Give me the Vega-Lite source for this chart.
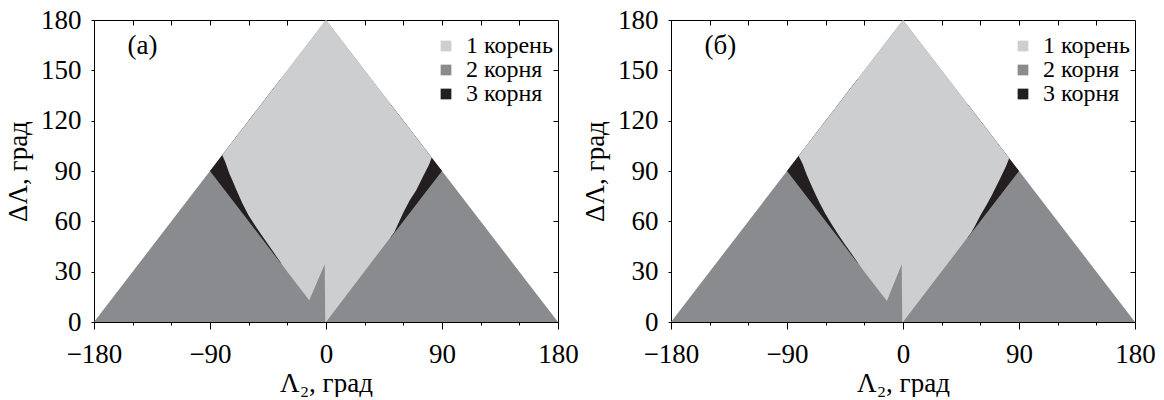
{
  "$schema": "https://vega.github.io/schema/vega-lite/v6.json",
  "background": "white",
  "padding": {"left": 4, "top": 5, "right": 5, "bottom": 0},
  "spacing": 113,
  "bounds": "flush",
  "config": {
    "font": "Liberation Serif, Times New Roman, Tinos, DejaVu Serif, serif",
    "view": {"stroke": "black", "strokeWidth": 1},
    "axis": {
      "labelFont": "Liberation Serif, Times New Roman, Tinos, DejaVu Serif, serif", "titleFont": "Liberation Serif, Times New Roman, Tinos, DejaVu Serif, serif",
      "labelFontSize": 27, "titleFontSize": 27, "titleFontWeight": "normal",
      "labelColor": "black", "titleColor": "black",
      "domainColor": "black", "tickColor": "black", "domainWidth": 1, "tickWidth": 1,
      "grid": false, "zindex": 1, "labelFlush": false, "labelOverlap": false
    },
    "legend": {
      "labelFont": "Liberation Serif, Times New Roman, Tinos, DejaVu Serif, serif", "labelFontSize": 24, "labelColor": "black"
    },
    "text": {"font": "Liberation Serif, Times New Roman, Tinos, DejaVu Serif, serif"}
  },
  "datasets": {
    "dark": [
      {"s": "2 корня", "x": -180, "y": 0, "y2": 0},
      {"s": "2 корня", "x": 0, "y": 180, "y2": 0},
      {"s": "2 корня", "x": 180, "y": 0, "y2": 0}
    ],
    "black": [
      {"s": "3 корня", "g": "L", "x": -90, "y": 90, "y2": 90},
      {"s": "3 корня", "g": "L", "x": -80, "y": 100, "y2": 80},
      {"s": "3 корня", "g": "L", "x": -70, "y": 110, "y2": 70},
      {"s": "3 корня", "g": "L", "x": -60, "y": 120, "y2": 60},
      {"s": "3 корня", "g": "L", "x": -50, "y": 130, "y2": 50},
      {"s": "3 корня", "g": "L", "x": -40, "y": 140, "y2": 40},
      {"s": "3 корня", "g": "L", "x": -35, "y": 145, "y2": 35},
      {"s": "3 корня", "g": "R", "x": 50, "y": 130, "y2": 50},
      {"s": "3 корня", "g": "R", "x": 60, "y": 120, "y2": 60},
      {"s": "3 корня", "g": "R", "x": 70, "y": 110, "y2": 70},
      {"s": "3 корня", "g": "R", "x": 80, "y": 100, "y2": 80},
      {"s": "3 корня", "g": "R", "x": 90, "y": 90, "y2": 90}
    ],
    "a_light": [
      {"s": "1 корень", "x": -80.5, "y": 99.5, "y2": 99.5},
      {"s": "1 корень", "x": -78, "y": 102, "y2": 95},
      {"s": "1 корень", "x": -75, "y": 105, "y2": 88.5},
      {"s": "1 корень", "x": -72, "y": 108, "y2": 83.3},
      {"s": "1 корень", "x": -70, "y": 110, "y2": 79.5},
      {"s": "1 корень", "x": -65, "y": 115, "y2": 71},
      {"s": "1 корень", "x": -60, "y": 120, "y2": 63.5},
      {"s": "1 корень", "x": -55, "y": 125, "y2": 57.5},
      {"s": "1 корень", "x": -50, "y": 130, "y2": 51.8},
      {"s": "1 корень", "x": -45, "y": 135, "y2": 46.3},
      {"s": "1 корень", "x": -40, "y": 140, "y2": 40.8},
      {"s": "1 корень", "x": -35, "y": 145, "y2": 35.3},
      {"s": "1 корень", "x": -30, "y": 150, "y2": 30},
      {"s": "1 корень", "x": -13, "y": 167, "y2": 13},
      {"s": "1 корень", "x": -1, "y": 179, "y2": 34.4},
      {"s": "1 корень", "x": -0.6, "y": 179.4, "y2": 0},
      {"s": "1 корень", "x": 0, "y": 180, "y2": 0},
      {"s": "1 корень", "x": 53, "y": 127, "y2": 53.5},
      {"s": "1 корень", "x": 56, "y": 124, "y2": 58.5},
      {"s": "1 корень", "x": 60, "y": 120, "y2": 65.3},
      {"s": "1 корень", "x": 65, "y": 115, "y2": 72.5},
      {"s": "1 корень", "x": 70, "y": 110, "y2": 78.5},
      {"s": "1 корень", "x": 75, "y": 105, "y2": 86.3},
      {"s": "1 корень", "x": 80, "y": 100, "y2": 93.8},
      {"s": "1 корень", "x": 82, "y": 98, "y2": 98}
    ],
    "b_light": [
      {"s": "1 корень", "x": -81, "y": 99, "y2": 99},
      {"s": "1 корень", "x": -78, "y": 102, "y2": 94.5},
      {"s": "1 корень", "x": -75, "y": 105, "y2": 88.3},
      {"s": "1 корень", "x": -72, "y": 108, "y2": 83},
      {"s": "1 корень", "x": -70, "y": 110, "y2": 79.5},
      {"s": "1 корень", "x": -65, "y": 115, "y2": 71.3},
      {"s": "1 корень", "x": -60, "y": 120, "y2": 64.2},
      {"s": "1 корень", "x": -55, "y": 125, "y2": 57.8},
      {"s": "1 корень", "x": -50, "y": 130, "y2": 51.8},
      {"s": "1 корень", "x": -45, "y": 135, "y2": 46.2},
      {"s": "1 корень", "x": -40, "y": 140, "y2": 40.8},
      {"s": "1 корень", "x": -35, "y": 145, "y2": 35.3},
      {"s": "1 корень", "x": -30, "y": 150, "y2": 30},
      {"s": "1 корень", "x": -12.5, "y": 167.5, "y2": 12.5},
      {"s": "1 корень", "x": -1, "y": 179, "y2": 34.4},
      {"s": "1 корень", "x": -0.6, "y": 179.4, "y2": 0},
      {"s": "1 корень", "x": 0, "y": 180, "y2": 0},
      {"s": "1 корень", "x": 53, "y": 127, "y2": 53.3},
      {"s": "1 корень", "x": 56, "y": 124, "y2": 57.5},
      {"s": "1 корень", "x": 60, "y": 120, "y2": 63.5},
      {"s": "1 корень", "x": 65, "y": 115, "y2": 70},
      {"s": "1 корень", "x": 68.6, "y": 111.4, "y2": 75.1},
      {"s": "1 корень", "x": 72, "y": 108, "y2": 80.3},
      {"s": "1 корень", "x": 75, "y": 105, "y2": 85},
      {"s": "1 корень", "x": 80, "y": 100, "y2": 93},
      {"s": "1 корень", "x": 82.4, "y": 97.6, "y2": 97.6}
    ],
    "a_lab": [{"label": "(а)"}],
    "b_lab": [{"label": "(б)"}]
  },
  "resolve": {"scale": {"color": "independent"}, "legend": {"color": "independent"}},
  "hconcat": [
    {
      "width": 464, "height": 302,
      "resolve": {"axis": {"x": "independent", "y": "independent"}},
      "layer": [
        {
          "data": {"name": "dark"},
          "mark": {"type": "area", "opacity": 1, "fillOpacity": 1},
          "encoding": {
            "x": {"field": "x", "type": "quantitative", "scale": {"domain": [-180, 180], "nice": false, "zero": false},
              "axis": {"orient": "bottom", "values": [-180, -150, -120, -90, -60, -30, 0, 30, 60, 90, 120, 150, 180],
                "labelExpr": "datum.value % 90 === 0 ? (datum.value < 0 ? '−' + (-datum.value) : '' + datum.value) : ''",
                "tickSize": {"condition": {"test": "datum.value % 90 === 0", "value": 7}, "value": 3},
                "labelPadding": 12, "title": "Λ₂, град", "titlePadding": 3}},
            "y": {"field": "y", "type": "quantitative", "scale": {"domain": [0, 180], "nice": false},
              "axis": {"orient": "left", "values": [0, 30, 60, 90, 120, 150, 180], "tickSize": 3, "labelPadding": 10,
                "title": "ΔΛ, град", "titlePadding": 8}},
            "y2": {"field": "y2"},
            "color": {"field": "s", "type": "nominal",
              "scale": {"domain": ["1 корень", "2 корня", "3 корня"], "range": ["#cdced0", "#8a8b8f", "#231f20"]},
              "legend": {"orient": "none", "legendX": 340, "legendY": 14, "title": null, "symbolType": "square",
                "symbolSize": 115, "symbolStrokeWidth": 0, "symbolOpacity": 1, "labelOffset": 8, "padding": 0, "rowPadding": 0}}
          }
        },
        {
          "data": {"name": "black"},
          "mark": {"type": "area", "opacity": 1, "fillOpacity": 1},
          "encoding": {
            "x": {"field": "x", "type": "quantitative",
              "axis": {"orient": "top", "values": [-150, -120, -90, -60, -30, 0, 30, 60, 90, 120, 150], "labels": false, "domain": false, "offset": -5, "tickSize": 5, "title": null}},
            "y": {"field": "y", "type": "quantitative",
              "axis": {"orient": "right", "values": [30, 60, 90, 120, 150], "labels": false, "domain": false, "offset": -5, "tickSize": 5, "title": null}},
            "y2": {"field": "y2"},
            "detail": {"field": "g"},
            "color": {"field": "s", "type": "nominal",
              "scale": {"domain": ["1 корень", "2 корня", "3 корня"], "range": ["#cdced0", "#8a8b8f", "#231f20"]}}
          }
        },
        {
          "data": {"name": "a_light"},
          "mark": {"type": "area", "opacity": 1, "fillOpacity": 1},
          "encoding": {
            "x": {"field": "x", "type": "quantitative", "axis": null},
            "y": {"field": "y", "type": "quantitative", "axis": null},
            "y2": {"field": "y2"},
            "color": {"field": "s", "type": "nominal",
              "scale": {"domain": ["1 корень", "2 корня", "3 корня"], "range": ["#cdced0", "#8a8b8f", "#231f20"]}}
          }
        },
        {
          "data": {"name": "a_lab"},
          "mark": {"type": "text", "align": "left", "baseline": "middle", "fontSize": 27, "color": "black"},
          "encoding": {
            "x": {"datum": -154, "type": "quantitative", "axis": null},
            "y": {"datum": 164.5, "type": "quantitative", "axis": null},
            "text": {"field": "label"}
          }
        }
      ]
    },
    {
      "width": 464, "height": 302,
      "resolve": {"axis": {"x": "independent", "y": "independent"}},
      "layer": [
        {
          "data": {"name": "dark"},
          "mark": {"type": "area", "opacity": 1, "fillOpacity": 1},
          "encoding": {
            "x": {"field": "x", "type": "quantitative", "scale": {"domain": [-180, 180], "nice": false, "zero": false},
              "axis": {"orient": "bottom", "values": [-180, -150, -120, -90, -60, -30, 0, 30, 60, 90, 120, 150, 180],
                "labelExpr": "datum.value % 90 === 0 ? (datum.value < 0 ? '−' + (-datum.value) : '' + datum.value) : ''",
                "tickSize": {"condition": {"test": "datum.value % 90 === 0", "value": 7}, "value": 3},
                "labelPadding": 12, "title": "Λ₂, град", "titlePadding": 3}},
            "y": {"field": "y", "type": "quantitative", "scale": {"domain": [0, 180], "nice": false},
              "axis": {"orient": "left", "values": [0, 30, 60, 90, 120, 150, 180], "tickSize": 3, "labelPadding": 10,
                "title": "ΔΛ, град", "titlePadding": 8}},
            "y2": {"field": "y2"},
            "color": {"field": "s", "type": "nominal",
              "scale": {"domain": ["1 корень", "2 корня", "3 корня"], "range": ["#cdced0", "#8a8b8f", "#231f20"]},
              "legend": {"orient": "none", "legendX": 340, "legendY": 14, "title": null, "symbolType": "square",
                "symbolSize": 115, "symbolStrokeWidth": 0, "symbolOpacity": 1, "labelOffset": 8, "padding": 0, "rowPadding": 0}}
          }
        },
        {
          "data": {"name": "black"},
          "mark": {"type": "area", "opacity": 1, "fillOpacity": 1},
          "encoding": {
            "x": {"field": "x", "type": "quantitative",
              "axis": {"orient": "top", "values": [-150, -120, -90, -60, -30, 0, 30, 60, 90, 120, 150], "labels": false, "domain": false, "offset": -5, "tickSize": 5, "title": null}},
            "y": {"field": "y", "type": "quantitative",
              "axis": {"orient": "right", "values": [30, 60, 90, 120, 150], "labels": false, "domain": false, "offset": -5, "tickSize": 5, "title": null}},
            "y2": {"field": "y2"},
            "detail": {"field": "g"},
            "color": {"field": "s", "type": "nominal",
              "scale": {"domain": ["1 корень", "2 корня", "3 корня"], "range": ["#cdced0", "#8a8b8f", "#231f20"]}}
          }
        },
        {
          "data": {"name": "b_light"},
          "mark": {"type": "area", "opacity": 1, "fillOpacity": 1},
          "encoding": {
            "x": {"field": "x", "type": "quantitative", "axis": null},
            "y": {"field": "y", "type": "quantitative", "axis": null},
            "y2": {"field": "y2"},
            "color": {"field": "s", "type": "nominal",
              "scale": {"domain": ["1 корень", "2 корня", "3 корня"], "range": ["#cdced0", "#8a8b8f", "#231f20"]}}
          }
        },
        {
          "data": {"name": "b_lab"},
          "mark": {"type": "text", "align": "left", "baseline": "middle", "fontSize": 27, "color": "black"},
          "encoding": {
            "x": {"datum": -154, "type": "quantitative", "axis": null},
            "y": {"datum": 164.5, "type": "quantitative", "axis": null},
            "text": {"field": "label"}
          }
        }
      ]
    }
  ]
}
